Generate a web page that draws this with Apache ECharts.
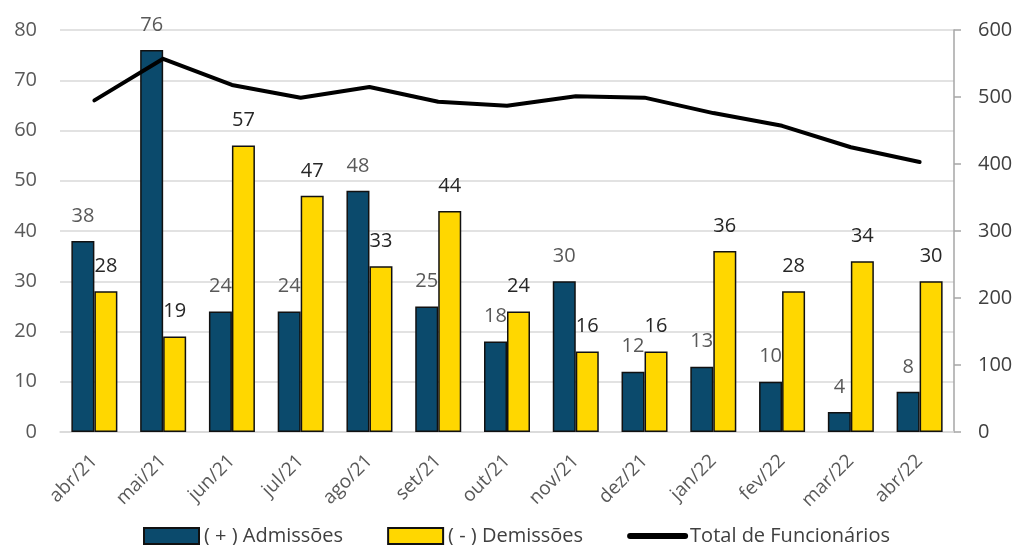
<!DOCTYPE html>
<html>
<head>
<meta charset="utf-8">
<script src="https://cdn.jsdelivr.net/npm/echarts@6/dist/echarts.min.js"></script>
<style>
  html, body { margin: 0; padding: 0; background: #fff; }
  #chart { width: 1030px; height: 545px; }
</style>
</head>
<body>
<div id="chart"></div>
<script>
const categories = ['abr/21', 'mai/21', 'jun/21', 'jul/21', 'ago/21', 'set/21', 'out/21', 'nov/21', 'dez/21', 'jan/22', 'fev/22', 'mar/22', 'abr/22']
const admissoes = [38, 76, 24, 24, 48, 25, 18, 30, 12, 13, 10, 4, 8]
const demissoes = [28, 19, 57, 47, 33, 44, 24, 16, 16, 36, 28, 34, 30]
const totalFuncionarios = [495, 557, 518, 499, 515, 493, 487, 501, 499, 476, 457, 425, 403]

const FONT = '"Open Sans", "Noto Sans", sans-serif'

const chart = echarts.init(document.getElementById('chart'))

const option = {
  backgroundColor: '#ffffff',
  animation: false,
  textStyle: { fontFamily: FONT },
  grid: {
    left: 60,
    right: 76,
    top: 30,
    bottom: 113
  },
  legend: {
    left: 143,
    top: 526,
    padding: 0,
    itemWidth: 55,
    itemHeight: 16,
    itemGap: 44,
    textStyle: {
      color: '#404040',
      fontSize: 20,
      fontFamily: FONT
    },
    data: [
      { name: '( + ) Admissões', icon: 'rect' },
      { name: '( - ) Demissões', icon: 'rect' },
      { name: 'Total de Funcionários', itemStyle: { opacity: 0 }, lineStyle: { width: 6, cap: 'round' } }
    ]
  },
  xAxis: {
    type: 'category',
    data: categories,
    axisLine: { lineStyle: { color: '#d9d9d9', width: 1.5 } },
    axisTick: { show: false },
    axisLabel: {
      rotate: 45,
      margin: 26,
      color: '#595959',
      fontSize: 19,
      fontFamily: FONT
    }
  },
  yAxis: [
    {
      type: 'value',
      min: 0,
      max: 80,
      interval: 10,
      axisLine: { show: false },
      axisTick: { show: false },
      axisLabel: {
        margin: 23,
        color: '#595959',
        fontSize: 20,
        fontFamily: FONT
      },
      splitLine: { lineStyle: { color: '#d9d9d9', width: 1.5 } }
    },
    {
      type: 'value',
      min: 0,
      max: 600,
      interval: 100,
      position: 'right',
      axisLine: { show: true, lineStyle: { color: '#a6a6a6', width: 1.5 } },
      axisTick: { show: true, length: 7, lineStyle: { color: '#a6a6a6', width: 1.5 } },
      axisLabel: {
        margin: 24,
        color: '#404040',
        fontSize: 20,
        fontFamily: FONT
      },
      splitLine: { show: false }
    }
  ],
  series: [
    {
      name: '( + ) Admissões',
      type: 'bar',
      data: admissoes,
      barWidth: 23,
      barGap: '0%',
      itemStyle: {
        color: '#0b4a6c',
        borderColor: '#111111',
        borderWidth: 1.5
      },
      label: {
        show: true,
        position: 'top',
        distance: 15,
        color: '#595959',
        fontSize: 20,
        fontFamily: FONT
      }
    },
    {
      name: '( - ) Demissões',
      type: 'bar',
      data: demissoes,
      barWidth: 23,
      itemStyle: {
        color: '#ffd700',
        borderColor: '#111111',
        borderWidth: 1.5
      },
      label: {
        show: true,
        position: 'top',
        distance: 15,
        color: '#262626',
        fontSize: 20,
        fontFamily: FONT
      }
    },
    {
      name: 'Total de Funcionários',
      type: 'line',
      yAxisIndex: 1,
      data: totalFuncionarios,
      symbol: 'none',
      lineStyle: {
        color: '#000000',
        width: 4,
        cap: 'round',
        join: 'round'
      },
      itemStyle: { color: '#000000' }
    }
  ]
}

chart.setOption(option)
</script>
</body>
</html>
